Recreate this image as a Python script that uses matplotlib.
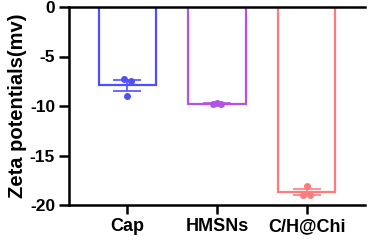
import numpy as np
import matplotlib
matplotlib.use("Agg")
import matplotlib.pyplot as plt

plt.rcParams['font.family'] = ['Liberation Sans', 'DejaVu Sans']
plt.rcParams['font.weight'] = 'bold'

groups = ['Cap', 'HMSNs', 'C/H@Chi']
cap_pts = [-7.25, -7.5, -9.0]
hmsn_pts = [-9.8, -9.8, -9.7]
chi_pts = [-19.0, -19.0, -18.1]
colors = ['#4f4fff', '#b452e6', '#ff7b7b']
yticks = [0, -5, -10, -15, -20]

data = [cap_pts, hmsn_pts, chi_pts]
means = [np.mean(d) for d in data]
sems = [np.std(d, ddof=1) / np.sqrt(len(d)) for d in data]

fig = plt.figure(figsize=(3.71, 2.42), dpi=100)
ax = fig.add_axes([69/371, 1-205/242, (365-69)/371, (205-7)/242])

x = np.arange(len(groups))
offs = [-0.04, 0.04, 0.0]
for i in range(len(groups)):
    ax.bar(x[i], means[i], width=0.64, facecolor='white', edgecolor=colors[i], linewidth=1.6, zorder=2)
    ax.errorbar(x[i], means[i], yerr=sems[i], fmt='none', ecolor=colors[i], elinewidth=1.2,
                capsize=10, capthick=1.2, zorder=3)
    ax.plot([x[i] + o for o in offs], data[i], 'o', color=colors[i], markersize=4, zorder=4)

ax.set_xlim(-0.65, 2.65)
ax.set_ylim(-20, 0)
ax.set_yticks(yticks)
ax.set_yticklabels([str(t) for t in yticks])
ax.set_xticks(x)
ax.set_xticklabels(groups)
ax.spines['right'].set_visible(False)
for s in ['left', 'bottom', 'top']:
    ax.spines[s].set_linewidth(1.8)
ax.tick_params(axis='y', width=1.8, length=7, labelsize=12.5, pad=3)
ax.tick_params(axis='x', width=1.8, length=6.5, labelsize=13, pad=3)
ax.set_ylabel('Zeta potentials(mv)', fontsize=14.5, fontweight='bold', labelpad=2)

fig.savefig('out.png', dpi=100)
